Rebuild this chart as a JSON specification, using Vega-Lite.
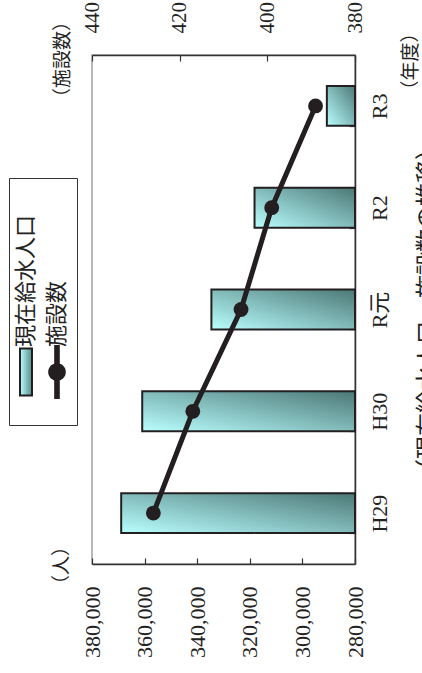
{
  "$schema": "https://vega.github.io/schema/vega-lite/v6.json",
  "width": 263,
  "height": 509,
  "autosize": {"type": "none"},
  "padding": {"left": 92, "top": 55, "right": 67, "bottom": 109},
  "background": "white",
  "config": {
    "view": {"stroke": "#a0a0a0", "strokeWidth": 1.5},
    "axis": {
      "grid": false,
      "domainColor": "#333333",
      "domainWidth": 1.5,
      "tickColor": "#333333",
      "tickWidth": 1.2,
      "tickSize": -6,
      "labelColor": "#222222",
      "labelFont": "Liberation Serif, Noto Sans CJK JP",
      "labelFontSize": 22,
      "titleFont": "Noto Sans CJK JP",
      "titleFontSize": 19,
      "titleFontWeight": "normal",
      "titleColor": "#222222"
    }
  },
  "title": {
    "text": "（現在給水人口・施設数の推移）",
    "orient": "right",
    "angle": -90,
    "baseline": "top",
    "anchor": "middle",
    "frame": "group",
    "offset": -26,
    "font": "Noto Sans CJK JP",
    "fontSize": 23,
    "fontWeight": "normal",
    "color": "#222222"
  },
  "data": {
    "values": [
      {"year": "H29", "pop": 368900, "fac": 426},
      {"year": "H30", "pop": 360900, "fac": 417},
      {"year": "R元", "pop": 334600, "fac": 406},
      {"year": "R2", "pop": 318200, "fac": 399},
      {"year": "R3", "pop": 290700, "fac": 389}
    ]
  },
  "layer": [
    {
      "mark": {
        "type": "bar",
        "stroke": "#231f20",
        "strokeWidth": 2,
        "fill": {"gradient": "linear", "x1": 0, "y1": 1, "x2": 1, "y2": 0,
                 "stops": [{"offset": 0, "color": "#b9ffff"}, {"offset": 1, "color": "#4b7876"}]}
      },
      "encoding": {
        "y": {
          "field": "year",
          "type": "nominal",
          "sort": ["R3", "R2", "R元", "H30", "H29"],
          "scale": {"paddingInner": 0.608, "paddingOuter": 0.304},
          "axis": {
            "orient": "right",
            "title": "（年度）",
            "labelAngle": -90,
            "labelAlign": "center",
            "labelBaseline": "top",
            "labelPadding": 20,
            "labelFont": "Liberation Serif, Noto Sans CJK JP",
            "labelFontSize": 22,
            "tickBand": "extent",
            "titleAngle": -90,
            "titleAlign": "center",
            "titleBaseline": "middle",
            "titleX": 55,
            "titleY": 6
          }
        },
        "x": {
          "field": "pop",
          "type": "quantitative",
          "scale": {"domain": [280000, 380000], "reverse": true, "nice": false, "zero": false},
          "axis": {
            "orient": "bottom",
            "values": [280000, 300000, 320000, 340000, 360000, 380000],
            "format": ",.0f",
            "labelAngle": -90,
            "labelAlign": "right",
            "labelBaseline": "middle",
            "labelPadding": 28,
            "labelFont": "Liberation Serif",
            "labelFontSize": 22,
            "labelColor": "#222222",
            "title": "（人）",
            "titleAngle": -90,
            "titleAlign": "center",
            "titleBaseline": "middle",
            "titleX": -31,
            "titleY": 1
          }
        },
        "x2": {"datum": 280000},
        "strokeDash": {
          "datum": "現在給水人口",
          "scale": {
            "domain": ["現在給水人口"],
            "range": [[1, 0]]
          },
          "legend": {
            "orient": "none",
            "legendX": -83,
            "legendY": 123,
            "direction": "vertical",
            "title": null,
            "strokeColor": "#333333",
            "fillColor": "white",
            "padding": 8,
            "symbolSize": 2704,
            "symbolStrokeWidth": 2,
            "symbolStrokeColor": "#231f20",
            "symbolType": "M0,1.55M-0.23,-0.9H0.23V0.9H-0.23ZM1.122,-1H1.262V1H1.122ZM0.892,0A0.3,0.3 0 1,1 1.492,0A0.3,0.3 0 1,1 0.892,0Z",
            "labelFont": "Noto Sans CJK JP",
            "labelFontSize": 22,
            "labelColor": "#222222",
            "labelLimit": 0,
            "labelExpr": "['現在給水人口', '施設数']",
            "encoding": {
              "labels": {
                "angle": {"value": -90},
                "align": {"value": "left"},
                "baseline": {"value": "middle"},
                "lineHeight": {"value": 31},
                "x": {"value": 9},
                "y": {"value": 161}
              },
              "symbols": {
                "x": {"value": 9},
                "y": {"value": 186},
                "stroke": {"value": "#231f20"},
                "fill": {"value": {"expr": "{gradient: 'linear', x1: 0, y1: 0, x2: 1, y2: 0, stops: [{offset: 0, color: '#b9ffff'}, {offset: 0.26, color: '#5b8e8c'}, {offset: 0.262, color: '#231f20'}, {offset: 1, color: '#231f20'}]}"}}
              }
            }
          }
        }
      }
    },
    {
      "mark": {"type": "line", "color": "#231f20", "strokeWidth": 5, "point": {"filled": true, "size": 220, "color": "#231f20"}},
      "encoding": {
        "y": {"field": "year", "type": "nominal", "sort": ["R3", "R2", "R元", "H30", "H29"]},
        "x": {
          "field": "fac",
          "type": "quantitative",
          "scale": {"domain": [380, 440], "reverse": true, "nice": false, "zero": false},
          "axis": {
            "orient": "top",
            "values": [380, 400, 420, 440],
            "format": "d",
            "labelAngle": -90,
            "labelAlign": "left",
            "labelBaseline": "middle",
            "labelPadding": 28,
            "labelFont": "Liberation Serif",
            "labelFontSize": 21,
            "labelColor": "#222222",
            "title": "（施設数）",
            "titleAngle": -90,
            "titleAlign": "center",
            "titleBaseline": "middle",
            "titleX": -30,
            "titleY": 4
          }
        }
      }
    }
  ],
  "resolve": {"scale": {"x": "independent"}}
}
